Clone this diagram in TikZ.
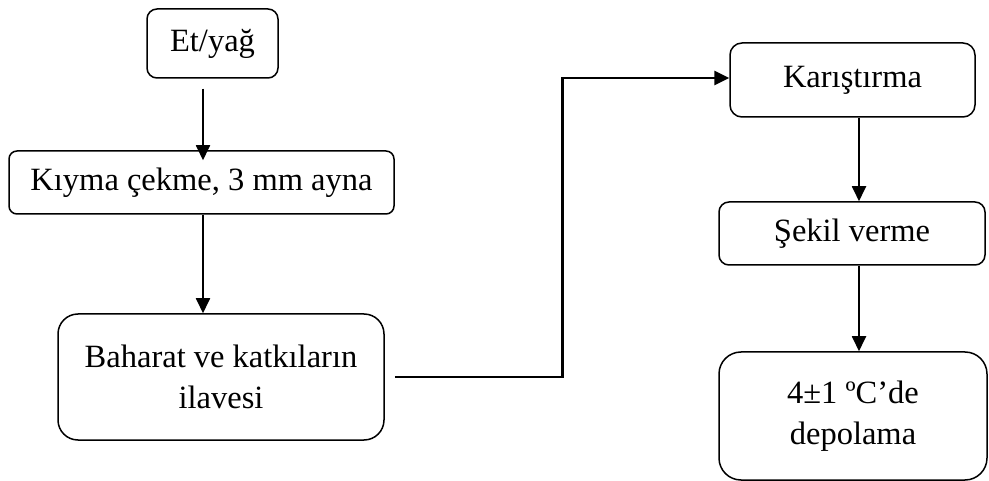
\documentclass[tikz,border=0pt]{standalone}
\usepackage{fontspec}
\setmainfont{Liberation Serif}
\usetikzlibrary{arrows.meta}

\begin{document}
\begin{tikzpicture}[x=1pt, y=-1pt,
                box/.style={draw, line width=1.5pt, inner sep=0pt, align=center,
                            font=\fontsize{32.5}{41}\selectfont},
                arr/.style={line width=1.8pt, -{Triangle[length=15pt, width=14pt]}},
                link/.style={line width=2.6pt, -{Triangle[length=15pt, width=14pt]}}]
                \useasboundingbox (0,0) rectangle (989,481);
                % left column
                \node[box, rounded corners=10pt, minimum width=131pt, minimum height=69pt] (et) at (212.5,43.5) {Et/yağ};
                \node[box, rounded corners=8pt, minimum width=385pt, minimum height=63pt] (kiyma) at (201.5,182.5) {Kıyma çekme, 3 mm ayna};
                \node[box, rounded corners=20pt, minimum width=326pt, minimum height=126pt] (baharat) at (221,377) {Baharat ve katkıların\\ilavesi};
                % right column
                \node[box, rounded corners=12pt, minimum width=245pt, minimum height=74pt] (karis) at (852.5,80) {Karıştırma};
                \node[box, rounded corners=10pt, minimum width=266pt, minimum height=63pt] (sekil) at (852,233.5) {Şekil verme};
                \node[box, rounded corners=22pt, minimum width=268pt, minimum height=128pt] (depo) at (853,416) {4±1 ºC’de\\depolama};
                % connectors
                \draw[arr] ([shift={(-9.5pt,-10pt)}]et.south) -- ([shift={(-9.5pt,-10pt)}]et.south |- kiyma.north);
                \draw[arr] ([xshift=1.5pt]kiyma.south) -- ([xshift=1.5pt]kiyma.south |- baharat.north);
                \draw[link] ([xshift=10pt]baharat.east) -- ++(168,0) |- ([yshift=2pt]karis.west);
                \draw[arr] ([xshift=6.5pt]karis.south) -- ([xshift=6.5pt]karis.south |- sekil.north);
                \draw[arr] ([xshift=7pt]sekil.south) -- ([xshift=7pt]sekil.south |- depo.north);
            \end{tikzpicture}
\end{document}
